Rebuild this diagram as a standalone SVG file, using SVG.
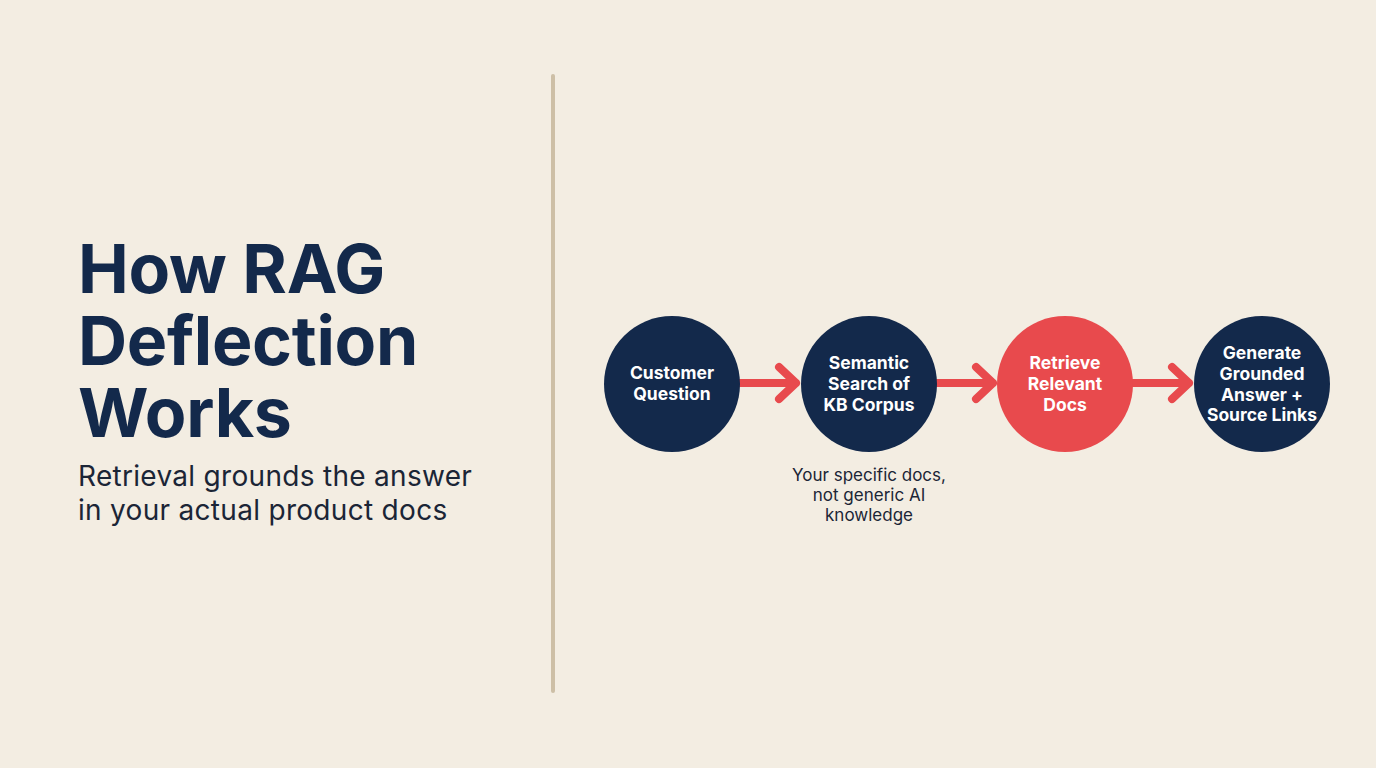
<svg xmlns="http://www.w3.org/2000/svg" width="1376" height="768" viewBox="0 0 1376 768">
<style>
.title{font-family:Inter,"Liberation Sans",sans-serif;font-weight:700;font-size:68px;fill:#13294b;letter-spacing:-0.3px}
.sub{font-family:Inter,"Liberation Sans",sans-serif;font-size:28px;fill:#1b2536;letter-spacing:0.3px}
.nl{font-family:Inter,"Liberation Sans",sans-serif;font-weight:700;font-size:17.5px;fill:#ffffff;text-anchor:middle}
.ann{font-family:Inter,"Liberation Sans",sans-serif;font-size:17px;fill:#1b2536;text-anchor:middle}
.navy{fill:#13294b}
.red{fill:#e84a4d}
.arr{stroke:#e84a4d;stroke-width:8;fill:none;stroke-linecap:round;stroke-linejoin:round}
</style>
<rect width="1376" height="768" fill="#f3ede2"/>
<g id="title">
<text class="title" x="78" y="293">How RAG</text>
<text class="title" x="78" y="365">Deflection</text>
<text class="title" x="78" y="437">Works</text>
<text class="sub" x="78" y="486">Retrieval grounds the answer</text>
<text class="sub" x="78" y="520">in your actual product docs</text>
</g>
<line id="divider" x1="553" y1="76" x2="553" y2="691" stroke="#cdbfa6" stroke-width="4" stroke-linecap="round"/>
<g id="connectors">
<path class="arr" d="M740 383 H796 M779 367 L796 383 L779 399"/>
<path class="arr" d="M937 383 H993 M976 367 L993 383 L976 399"/>
<path class="arr" d="M1133 383 H1189 M1172 367 L1189 383 L1172 399"/>
</g>
<g id="n1">
<circle class="navy" cx="672" cy="384" r="68"/>
<text class="nl" x="672" y="379">Customer</text>
<text class="nl" x="672" y="400">Question</text>
</g>
<g id="n2">
<circle class="navy" cx="869" cy="384" r="68"/>
<text class="nl" x="869" y="369">Semantic</text>
<text class="nl" x="869" y="390">Search of</text>
<text class="nl" x="869" y="411">KB Corpus</text>
</g>
<g id="n3">
<circle class="red" cx="1065" cy="384" r="68"/>
<text class="nl" x="1065" y="369">Retrieve</text>
<text class="nl" x="1065" y="390">Relevant</text>
<text class="nl" x="1065" y="411">Docs</text>
</g>
<g id="n4">
<circle class="navy" cx="1262" cy="384" r="68"/>
<text class="nl" x="1262" y="359">Generate</text>
<text class="nl" x="1262" y="380">Grounded</text>
<text class="nl" x="1262" y="401">Answer +</text>
<text class="nl" x="1262" y="421">Source Links</text>
</g>
<g id="annotation">
<text class="ann" x="869" y="481">Your specific docs,</text>
<text class="ann" x="869" y="501">not generic AI</text>
<text class="ann" x="869" y="521">knowledge</text>
</g>
</svg>
